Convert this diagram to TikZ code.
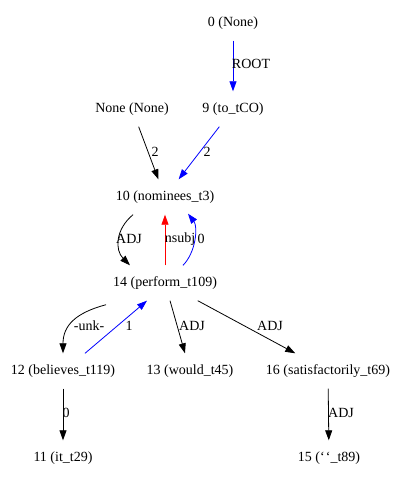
\documentclass[tikz,border=0pt]{standalone}
\usepackage{fontspec}
\setmainfont{Liberation Serif}
\usetikzlibrary{arrows.meta}
\tikzset{
  nd/.style={rectangle, minimum height=35bp, inner xsep=6bp, inner ysep=0pt, font=\fontsize{14bp}{16bp}\selectfont},
  lab/.style={inner sep=0pt, font=\fontsize{14bp}{16bp}\selectfont},
  edge/.style={line width=0.8bp, -{Triangle[length=10bp,width=7bp]}},
  bedge/.style={edge, draw=blue, -{Triangle[length=10bp,width=7bp,fill=blue]}},
  redge/.style={edge, draw=red, -{Triangle[length=10bp,width=7bp,fill=red]}},
}
\begin{document}
\begin{tikzpicture}[x=1bp, y=-1bp]
\useasboundingbox (0,0) rectangle (401,479);
\node[nd] (n0) at (233,23) {0 (None)};
\node[nd] (nn) at (132,109) {None (None)};
\node[nd] (n9) at (233,109) {9 (to\_tCO)};
\node[nd] (n10) at (165,197) {10 (nominees\_t3)};
\node[nd] (n14) at (165,283) {14 (perform\_t109)};
\node[nd] (n12) at (63,371) {12 (believes\_t119)};
\node[nd] (n13) at (190,371) {13 (would\_t45)};
\node[nd] (n16) at (328,371) {16 (satisfactorily\_t69)};
\node[nd] (n11) at (63,458) {11 (it\_t29)};
\node[nd] (n15) at (329,458) {15 (‘\kern1.2bp‘\_t89)};

\draw[bedge] (n0) -- (n9);
\draw[edge] (nn) -- (n10);
\draw[bedge] (n9) -- (n10);
\draw[edge] ([xshift=-32bp]n10.south) .. controls +(-18,15) and +(-15,-15) .. ([xshift=-35bp]n14.north);
\draw[redge] (n14.north) -- (n10.south);
\draw[bedge] ([xshift=18bp]n14.north) .. controls +(13,-13) and +(10,13) .. ([xshift=23bp,yshift=1bp]n10.south);
\draw[edge] ([xshift=-59bp,yshift=-4bp]n14.south) .. controls +(-30,8) and +(0,-28) .. (n12.north);
\draw[bedge] ([xshift=22bp]n12.north) -- ([xshift=-18bp]n14.south);
\draw[edge] (n14) -- (n13);
\draw[edge] (n14) -- (n16);
\draw[edge] (n12) -- (n11);
\draw[edge] (n16) -- (n15);

\node[lab] (l1) at (251,64) {ROOT};
\node[lab] (l2) at (155,152) {2};
\node[lab] (l3) at (207,152) {2};
\node[lab] (l4) at (129,239) {ADJ};
\node[lab] (l5) at (180,239) {nsubj};
\node[lab] (l6) at (201,239) {0};
\node[lab] (l7) at (89,326) {-unk-};
\node[lab] (l8) at (129,326) {1};
\node[lab] (l9) at (192,326) {ADJ};
\node[lab] (l10) at (270,326) {ADJ};
\node[lab] (l11) at (66,413) {0};
\node[lab] (l12) at (341,413) {ADJ};
\end{tikzpicture}
\end{document}
